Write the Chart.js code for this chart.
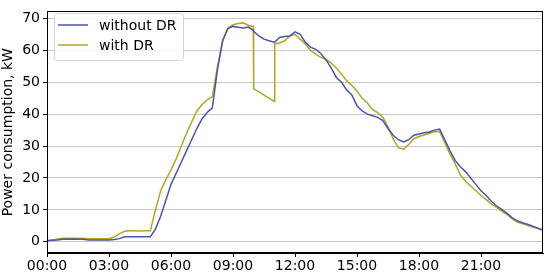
<!DOCTYPE html>
<html>
<head>
<meta charset="utf-8">
<script src="https://cdn.jsdelivr.net/npm/chart.js@4.4.1/dist/chart.umd.min.js"></script>
<style>
  html, body { margin: 0; padding: 0; background: #fff; }
  #wrap { width: 550px; height: 276px; }
</style>
</head>
<body>
<div id="wrap"><canvas id="powerChart" width="550" height="276"></canvas></div>
<script>
// hour of day for each sample (extra points where the DR profile steps)
const hours = [
    0, 0.25, 0.5, 0.75, 1, 1.25, 1.5, 1.75, 2, 2.25, 2.5, 2.75,
    3, 3.25, 3.5, 3.75, 4, 4.25, 4.5, 4.75, 5, 5.25, 5.5, 5.75,
    6, 6.25, 6.5, 6.75, 7, 7.25, 7.5, 7.75, 8, 8.25, 8.5, 8.75,
    9, 9.25, 9.5, 9.75, 9.98, 10, 10.25, 10.5, 10.75, 11, 11.02, 11.25, 11.5, 11.75,
    12, 12.25, 12.5, 12.75, 13, 13.25, 13.5, 13.75, 14, 14.25, 14.5, 14.75,
    15, 15.25, 15.5, 15.75, 16, 16.25, 16.5, 16.75, 17, 17.25, 17.5, 17.75,
    18, 18.25, 18.5, 18.75, 19, 19.25, 19.5, 19.75, 20, 20.25, 20.5, 20.75,
    21, 21.25, 21.5, 21.75, 22, 22.25, 22.5, 22.75, 23, 23.25, 23.5, 23.75, 24
];

const withoutDR = [
    0.3, 0.5, 0.6, 0.8, 0.8, 0.9, 0.8, 0.8, 0.6, 0.6, 0.6, 0.6,
    0.6, 0.7, 1.0, 1.6, 1.6, 1.6, 1.6, 1.6, 1.6, 4.0, 8.0, 13.0,
    18.0, 21.5, 25.0, 28.5, 32.0, 35.5, 38.5, 40.5, 42.0, 54.0, 63.0, 66.8,
    67.5, 67.2, 67.0, 67.3, 66.2, 66.0, 64.5, 63.5, 63.0, 62.5, 62.6, 64.0, 64.3, 64.5,
    65.8, 65.0, 62.5, 61.0, 60.3, 59.0, 57.0, 54.5, 51.5, 50.0, 47.6, 46.0,
    42.6, 41.0, 40.0, 39.5, 39.0, 38.0, 35.5, 33.4, 32.0, 31.3, 32.0, 33.4,
    33.8, 34.2, 34.4, 35.0, 35.3, 32.0, 28.5, 25.5, 23.5, 22.0, 20.0, 18.0,
    16.0, 14.5, 12.7, 11.3, 10.2, 9.0, 7.6, 6.6, 6.0, 5.5, 4.9, 4.3, 3.7
];

const withDR = [
    0.3, 0.6, 0.9, 1.1, 1.1, 1.1, 1.1, 1.1, 1.0, 1.0, 1.0, 1.0,
    1.0, 1.5, 2.5, 3.3, 3.5, 3.5, 3.4, 3.5, 3.5, 10.0, 16.0, 19.5,
    22.5, 26.0, 30.0, 34.0, 37.5, 41.0, 43.0, 44.5, 45.5, 55.0, 63.0, 67.0,
    68.0, 68.4, 68.6, 67.8, 67.5, 48.0, 47.0, 46.0, 45.0, 44.0, 62.0, 62.3, 63.0, 64.5,
    65.0, 63.5, 62.0, 60.0, 58.8, 57.8, 57.2, 56.0, 54.5, 52.5, 50.5, 49.0,
    47.3, 45.0, 43.5, 41.5, 40.5, 39.0, 36.0, 32.3, 29.5, 29.0, 30.5, 32.3,
    33.0, 33.5, 34.0, 34.5, 34.5, 31.0, 27.5, 24.5, 21.0, 19.0, 17.5, 16.0,
    14.5, 13.2, 11.8, 10.8, 9.6, 8.6, 7.3, 6.2, 5.7, 5.2, 4.6, 4.2, 3.7
];

const xTicks = [0, 3, 6, 9, 12, 15, 18, 21];
const yTicks = [0, 10, 20, 30, 40, 50, 60, 70];

const FONT = 'DejaVu Sans';

function toPoints(values) {
    return hours.map((h, i) => ({x: h, y: values[i]}));
}

function hourLabel(h) {
    return String(h).padStart(2, '0') + ':00';
}

/**
 * Frame around the plot and the legend inside the top-left corner
 */
const framePlugin = {
    id: 'frameLegend',
    afterDraw(chart) {
        const ctx = chart.ctx;
        const a = chart.chartArea;
        ctx.save();
        ctx.strokeStyle = '#000';
        ctx.lineWidth = 1;
        ctx.strokeRect(Math.round(a.left) + 0.5, Math.round(a.top) + 0.5,
            Math.round(a.right - a.left) - 1, Math.round(a.bottom - a.top) - 1);

        // legend box
        const bx = 54.5, by = 13.5, bw = 129, bh = 47, r = 3;
        ctx.beginPath();
        ctx.moveTo(bx + r, by);
        ctx.arcTo(bx + bw, by, bx + bw, by + bh, r);
        ctx.arcTo(bx + bw, by + bh, bx, by + bh, r);
        ctx.arcTo(bx, by + bh, bx, by, r);
        ctx.arcTo(bx, by, bx + bw, by, r);
        ctx.closePath();
        ctx.fillStyle = 'rgba(255,255,255,0.85)';
        ctx.fill();
        ctx.strokeStyle = '#d4d4d4';
        ctx.stroke();

        ctx.font = '14px "' + FONT + '"';
        ctx.textBaseline = 'middle';
        ctx.textAlign = 'left';
        chart.data.datasets.forEach((ds, i) => {
            const y = 25 + i * 20;
            ctx.strokeStyle = ds.borderColor;
            ctx.lineWidth = 1.5;
            ctx.beginPath();
            ctx.moveTo(58, y);
            ctx.lineTo(88, y);
            ctx.stroke();
            ctx.fillStyle = '#000';
            ctx.fillText(ds.label, 99, y + 1);
        });
        ctx.restore();
    }
};

new Chart(document.getElementById('powerChart'), {
    type: 'line',
    data: {
        datasets: [
            {
                label: 'without DR',
                data: toPoints(withoutDR),
                borderColor: '#4b55a6',
                borderWidth: 1.5,
                pointRadius: 0,
                tension: 0,
                fill: false
            },
            {
                label: 'with DR',
                data: toPoints(withDR),
                borderColor: '#b4a428',
                borderWidth: 1.5,
                pointRadius: 0,
                tension: 0,
                fill: false
            }
        ]
    },
    options: {
        responsive: false,
        animation: false,
        events: [],
        layout: {padding: {top: 7, right: 7, left: 0, bottom: 0}},
        plugins: {
            legend: {display: false},
            tooltip: {enabled: false}
        },
        scales: {
            x: {
                type: 'linear',
                min: 0,
                max: 24,
                afterBuildTicks: scale => { scale.ticks = xTicks.map(v => ({value: v})); },
                afterFit: scale => { scale.height = 23; },
                ticks: {
                    color: '#000',
                    font: {family: FONT, size: 14},
                    padding: 1,
                    maxRotation: 0,
                    autoSkip: false,
                    callback: v => hourLabel(v)
                },
                grid: {drawOnChartArea: false, drawTicks: true, tickLength: 4, tickColor: '#000'},
                border: {display: true, color: '#000'}
            },
            y: {
                min: -3.5,
                max: 72.2,
                afterBuildTicks: scale => { scale.ticks = yTicks.map(v => ({value: v})); },
                afterFit: scale => { scale.width = 47; },
                ticks: {
                    color: '#000',
                    font: {family: FONT, size: 14},
                    padding: 3
                },
                title: {
                    display: true,
                    text: 'Power consumption, kW',
                    color: '#000',
                    font: {family: FONT, size: 14},
                    padding: {top: 0, bottom: 0}
                },
                grid: {color: '#c8c8c8', lineWidth: 1, tickLength: 4, tickColor: '#000'},
                border: {display: true, color: '#000'}
            }
        }
    },
    plugins: [framePlugin]
});
</script>
</body>
</html>
